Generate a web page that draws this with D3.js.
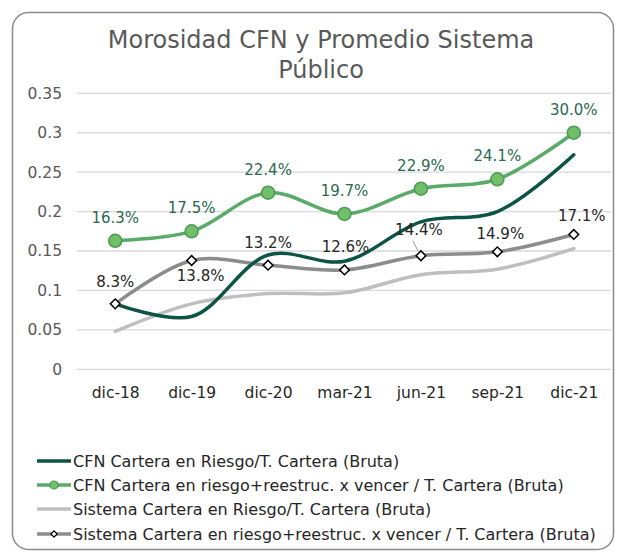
<html>
<head>
<meta charset="utf-8">
<script src="https://cdn.jsdelivr.net/npm/d3@7"></script>
<style>
body, html { margin: 0; padding: 0; background: white; }
text { font-family: "DejaVu Sans", Verdana, sans-serif; }
</style>
</head>
<body>
<div id="chart"></div>
<script>
// chart data
var categories = ["dic-18", "dic-19", "dic-20", "mar-21", "jun-21", "sep-21", "dic-21"];
var cfnRiesgo = [0.083, 0.067, 0.145, 0.137, 0.187, 0.200, 0.272];
var cfnReestruc = [0.163, 0.175, 0.224, 0.197, 0.229, 0.241, 0.300];
var sisRiesgo = [0.048, 0.083, 0.096, 0.097, 0.120, 0.127, 0.153];
var sisReestruc = [0.083, 0.138, 0.132, 0.126, 0.144, 0.149, 0.171];
var yTicks = [0, 0.05, 0.1, 0.15, 0.2, 0.25, 0.3, 0.35];
var seriesNames = [
  "CFN Cartera en Riesgo/T. Cartera (Bruta)",
  "CFN Cartera en riesgo+reestruc. x vencer / T. Cartera (Bruta)",
  "Sistema Cartera en Riesgo/T. Cartera (Bruta)",
  "Sistema Cartera en riesgo+reestruc. x vencer / T. Cartera (Bruta)"
];

var W = 618, H = 556;
var svg = d3.select("#chart").append("svg")
  .attr("width", W).attr("height", H);

// chart frame
svg.append("rect")
  .attr("x", 12.5).attr("y", 12.5)
  .attr("width", 601).attr("height", 537)
  .attr("rx", 16).attr("ry", 16)
  .style("fill", "white")
  .style("stroke", "#8c8c8c")
  .style("stroke-width", 1.5);

svg.append("text")
  .attr("x", 321).attr("y", 48)
  .attr("text-anchor", "middle")
  .style("font-size", "24px").style("fill", "#595959")
  .text("Morosidad CFN y Promedio Sistema");
svg.append("text")
  .attr("x", 321).attr("y", 78)
  .attr("text-anchor", "middle")
  .style("font-size", "24px").style("fill", "#595959")
  .text("Público");

var x = d3.scalePoint().domain(categories).range([77, 612]).padding(0.5);
var y = d3.scaleLinear().domain([0, 0.35]).range([369.3, 93.3]);

// grid
svg.append("g").selectAll("line")
  .data(yTicks).enter().append("line")
  .attr("x1", 77).attr("x2", 611)
  .attr("y1", function(d) { return y(d); })
  .attr("y2", function(d) { return y(d); })
  .style("stroke", "#d9d9d9").style("stroke-width", 1.3);

var yAxis = svg.append("g")
  .attr("transform", "translate(62,0)")
  .call(d3.axisLeft(y).tickValues(yTicks).tickSize(0).tickPadding(0)
    .tickFormat(function(d) { return d3.format("")(+d.toFixed(2)); }));
yAxis.select(".domain").remove();
yAxis.selectAll("text")
  .style("font-size", "15.5px").style("fill", "#595959")
  .style("font-family", "'DejaVu Sans', Verdana, sans-serif");

var xAxis = svg.append("g")
  .attr("transform", "translate(0,369.3)")
  .call(d3.axisBottom(x).tickSize(0).tickPadding(18));
xAxis.select(".domain").remove();
xAxis.selectAll("text")
  .style("font-size", "15.5px").style("fill", "#262626")
  .style("font-family", "'DejaVu Sans', Verdana, sans-serif");

var line = d3.line()
  .curve(d3.curveCatmullRom.alpha(0.5))
  .x(function(d, i) { return x(categories[i]); })
  .y(function(d) { return y(d); });

var series = [
  { values: sisRiesgo, color: "#bfbfbf" },
  { values: sisReestruc, color: "#8c8c8c" },
  { values: cfnRiesgo, color: "#0c5444" },
  { values: cfnReestruc, color: "#5aab6a" }
];

series.forEach(function(s) {
  svg.append("path")
    .attr("d", line(s.values))
    .style("fill", "none")
    .style("stroke", s.color)
    .style("stroke-width", 3.5)
    .style("stroke-linecap", "round");
});

var square = d3.symbol().type(d3.symbolSquare2).size(60);

svg.append("g").selectAll("path")
  .data(sisReestruc).enter().append("path")
  .attr("d", square)
  .attr("transform", function(d, i) { return "translate(" + x(categories[i]) + "," + y(d) + ") rotate(45)"; })
  .style("fill", "white").style("stroke", "#000").style("stroke-width", 1.5);

svg.append("g").selectAll("circle")
  .data(cfnReestruc).enter().append("circle")
  .attr("cx", function(d, i) { return x(categories[i]); })
  .attr("cy", function(d) { return y(d); })
  .attr("r", 6.5)
  .style("fill", "#72bf6a").style("stroke", "#4c9a55").style("stroke-width", 1.5);

// data labels
var pct = function(d) { return (d * 100).toFixed(1) + "%"; };

svg.append("g").selectAll("text")
  .data(cfnReestruc).enter().append("text")
  .attr("x", function(d, i) { return x(categories[i]); })
  .attr("y", function(d) { return y(d) - 18; })
  .attr("text-anchor", "middle")
  .style("font-size", "15px").style("fill", "#2b6a4f")
  .text(pct);

// offsets for the gray labels (dx, dy from the point)
var sisLabelDx = [0, 9, 0, 1, -2, 3, 8];
var sisLabelDy = [-17, 21, -17, -18, -21, -13, -13];

// leader line for jun-21 label
svg.append("line")
  .attr("x1", x(categories[4]) - 8).attr("y1", y(sisReestruc[4]) - 15)
  .attr("x2", x(categories[4]) - 3).attr("y2", y(sisReestruc[4]) - 5)
  .style("stroke", "#999").style("stroke-width", 1);

svg.append("g").selectAll("text")
  .data(sisReestruc).enter().append("text")
  .attr("x", function(d, i) { return x(categories[i]) + sisLabelDx[i]; })
  .attr("y", function(d, i) { return y(d) + sisLabelDy[i]; })
  .attr("text-anchor", "middle")
  .style("font-size", "15px").style("fill", "#262626")
  .text(pct);

// legend
var legend = svg.append("g");
var legendY = [461, 485, 509, 534];
seriesNames.forEach(function(name, i) {
  var s = [series[2], series[3], series[0], series[1]][i];
  var g = legend.append("g").attr("transform", "translate(0," + legendY[i] + ")");
  g.append("line")
    .attr("x1", 37).attr("x2", 71).attr("y1", 0).attr("y2", 0)
    .style("stroke", s.color).style("stroke-width", 3.5);
  if (i == 1) {
    g.append("circle").attr("cx", 54).attr("cy", 0).attr("r", 4)
      .style("fill", "#72bf6a").style("stroke", "#4c9a55").style("stroke-width", 1.2);
  }
  if (i == 3) {
    g.append("path").attr("d", d3.symbol().type(d3.symbolSquare2).size(24))
      .attr("transform", "translate(54,0) rotate(45)")
      .style("fill", "white").style("stroke", "#000").style("stroke-width", 1.2);
  }
  g.append("text")
    .attr("x", 73).attr("y", 5.5)
    .style("font-size", "16px").style("fill", "#262626")
    .text(name);
});
</script>
</body>
</html>
